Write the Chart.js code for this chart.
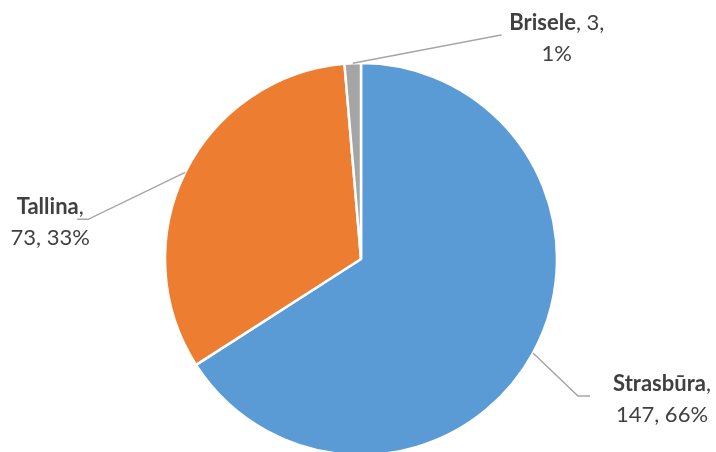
<!DOCTYPE html>
<html>
<head>
<meta charset="utf-8">
<script src="https://cdn.jsdelivr.net/npm/chart.js@4.4.0/dist/chart.umd.min.js"></script>
<style>
  html, body { margin: 0; padding: 0; background: #ffffff; }
  #wrap { width: 716px; height: 452px; }
</style>
</head>
<body>
<div id="wrap"><canvas id="pieChart" width="716" height="452"></canvas></div>
<script>
// Données du graphique
const categories = ['Strasbūra', 'Tallina', 'Brisele'];
const values = [147, 73, 3];
const percentLabels = ['66%', '33%', '1%'];
const sliceColors = ['#5B9BD5', '#ED7D31', '#A5A5A5'];

// Position des étiquettes, relative au point d'ancrage sur le bord du secteur
const labelLayout = [
    { elbow: [45, 43], end: [57, 43], text: [129, 31], lines: 'two' },   // Strasbūra
    { elbow: [-97, 47], end: [-108, 47], text: [-135, 35], lines: 'two' }, // Tallina
    { elbow: [147, -28], end: [149, -28], text: [204, -40], lines: 'brisele' } // Brisele
];

const FONT_FAMILY = 'Lato, "Liberation Sans", sans-serif';
const FONT_SIZE = 22;
const LINE_GAP = 31;
const TEXT_COLOR = '#404040';

// Plugin: lignes de rappel + étiquettes façon Excel
const calloutPlugin = {
    id: 'callouts',
    afterDatasetsDraw(chart) {
        const ctx = chart.ctx;
        const meta = chart.getDatasetMeta(0);
        ctx.save();
        meta.data.forEach((arc, i) => {
            const p = arc.getProps(['x', 'y', 'startAngle', 'endAngle', 'outerRadius'], true);
            const mid = (p.startAngle + p.endAngle) / 2;
            const ax = p.x + Math.cos(mid) * p.outerRadius;
            const ay = p.y + Math.sin(mid) * p.outerRadius;
            const lay = labelLayout[i];

            // ligne de rappel
            ctx.strokeStyle = '#A6A6A6';
            ctx.lineWidth = 1.5;
            ctx.beginPath();
            ctx.moveTo(ax, ay);
            ctx.lineTo(ax + lay.elbow[0], ay + lay.elbow[1]);
            ctx.lineTo(ax + lay.end[0], ay + lay.end[1]);
            ctx.stroke();

            // texte
            const tx = ax + lay.text[0];
            const ty = ay + lay.text[1];
            const boldFont = 'bold ' + FONT_SIZE + 'px ' + FONT_FAMILY;
            const normFont = FONT_SIZE + 'px ' + FONT_FAMILY;
            let line1Bold, line1Rest, line2;
            if (lay.lines === 'brisele') {
                line1Bold = categories[i];
                line1Rest = ', ' + values[i] + ',';
                line2 = percentLabels[i];
            } else {
                line1Bold = categories[i];
                line1Rest = ',';
                line2 = values[i] + ', ' + percentLabels[i];
            }
            ctx.fillStyle = TEXT_COLOR;
            ctx.textBaseline = 'middle';
            ctx.font = boldFont;
            const wB = ctx.measureText(line1Bold).width;
            ctx.font = normFont;
            const wR = ctx.measureText(line1Rest).width;
            const startX = tx - (wB + wR) / 2;
            ctx.textAlign = 'left';
            ctx.font = boldFont;
            ctx.fillText(line1Bold, startX, ty);
            ctx.font = normFont;
            ctx.fillText(line1Rest, startX + wB, ty);
            ctx.textAlign = 'center';
            ctx.fillText(line2, tx, ty + LINE_GAP);
        });
        ctx.restore();
    }
};

const chart = new Chart(document.getElementById('pieChart'), {
    type: 'pie',
    data: {
        labels: categories,
        datasets: [{
            data: values,
            backgroundColor: sliceColors,
            borderColor: '#ffffff',
            borderWidth: 2.5
        }]
    },
    options: {
        responsive: false,
        animation: false,
        radius: 196,
        layout: { padding: { top: 66, bottom: 0, left: 6, right: 0 } },
        plugins: {
            legend: { display: false },
            tooltip: { enabled: false }
        }
    },
    plugins: [calloutPlugin]
});
</script>
</body>
</html>
